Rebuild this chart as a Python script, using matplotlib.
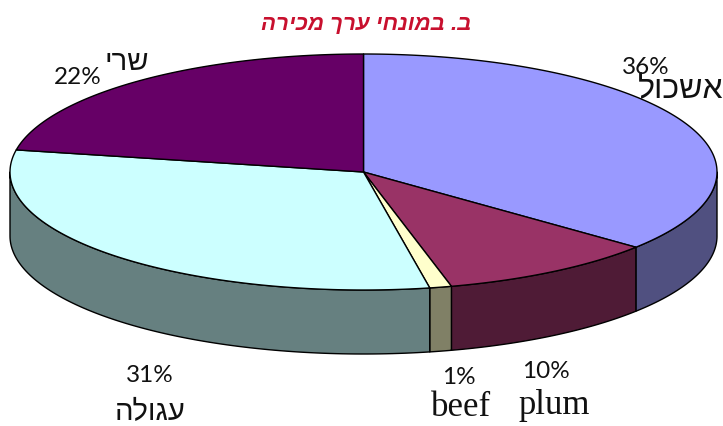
import numpy as np
import matplotlib
matplotlib.use("Agg")
import matplotlib.pyplot as plt
from matplotlib.patches import Polygon

# slices, clockwise from 12 o'clock
nomes = ["אשכול", "plum", "beef", "עגולה", "שרי"]
valores = [36, 10, 1, 31, 22]
rotulos = ["36%", "10%", "1%", "31%", "22%"]
titulo = "ב. במונחי ערך מכירה"

cores_topo = ["#9999ff", "#993366", "#ffffcc", "#ccffff", "#660066"]
cores_lado = ["#505080", "#4f1b36", "#808066", "#668080", "#330033"]

# pie geometry in pixels
cx, cy, rx, ry, prof = 363.5, 172, 353.5, 118, 64

# label positions in pixels (x, y)
pos_rot = [(646, 68), (546, 371), (459, 378), (150, 376), (78, 78)]
pos_nome = [(681, 90), (554, 405), (461, 408), (150, 412), (127, 62)]
tam_nome = [23, 25, 25, 21, 21]


def ponto(theta):
    return cx + rx * np.sin(theta), cy - ry * np.cos(theta)


def vis(s):
    # matplotlib has no bidi, Hebrew goes in visual order
    if any("\u0590" <= c <= "\u05ff" for c in s):
        return s[::-1]
    return s


def fonte_nome(s):
    if any("\u0590" <= c <= "\u05ff" for c in s):
        return "Liberation Sans"
    return "Liberation Serif"


fig = plt.figure(figsize=(7.23, 4.26), dpi=100)
ax = fig.add_axes([0, 0, 1, 1])
ax.set_xlim(0, 723)
ax.set_ylim(426, 0)
ax.axis("off")

fracoes = np.array(valores) / sum(valores)
limites = np.concatenate([[0], np.cumsum(fracoes)]) * 2 * np.pi

# sides first, only the front half of the rim shows
for i in range(len(valores)):
    a = max(limites[i], np.pi / 2)
    b = min(limites[i + 1], 3 * np.pi / 2)
    if b <= a:
        continue
    t = np.linspace(a, b, 100)
    x, y = ponto(t)
    borda = np.concatenate([np.c_[x, y], np.c_[x, y + prof][::-1]])
    ax.add_patch(Polygon(borda, closed=True, fc=cores_lado[i], ec="black", lw=1.0, joinstyle="round"))

# top face
for i in range(len(valores)):
    t = np.linspace(limites[i], limites[i + 1], 200)
    x, y = ponto(t)
    fatia = np.concatenate([[[cx, cy]], np.c_[x, y]])
    ax.add_patch(Polygon(fatia, closed=True, fc=cores_topo[i], ec="black", lw=1.0, joinstyle="round"))

for i in range(len(valores)):
    ax.text(pos_rot[i][0], pos_rot[i][1], rotulos[i], fontsize=17.5, family="Lato",
            ha="center", va="center", color="#111111")
    ax.text(pos_nome[i][0], pos_nome[i][1], vis(nomes[i]), fontsize=tam_nome[i],
            family=fonte_nome(nomes[i]), ha="center", va="center", color="#111111")

ax.text(366, 25, vis(titulo), fontsize=16, family="Liberation Sans", weight="bold",
        style="italic", color="#c8102e", ha="center", va="center")

fig.savefig("out.png", dpi=100)
